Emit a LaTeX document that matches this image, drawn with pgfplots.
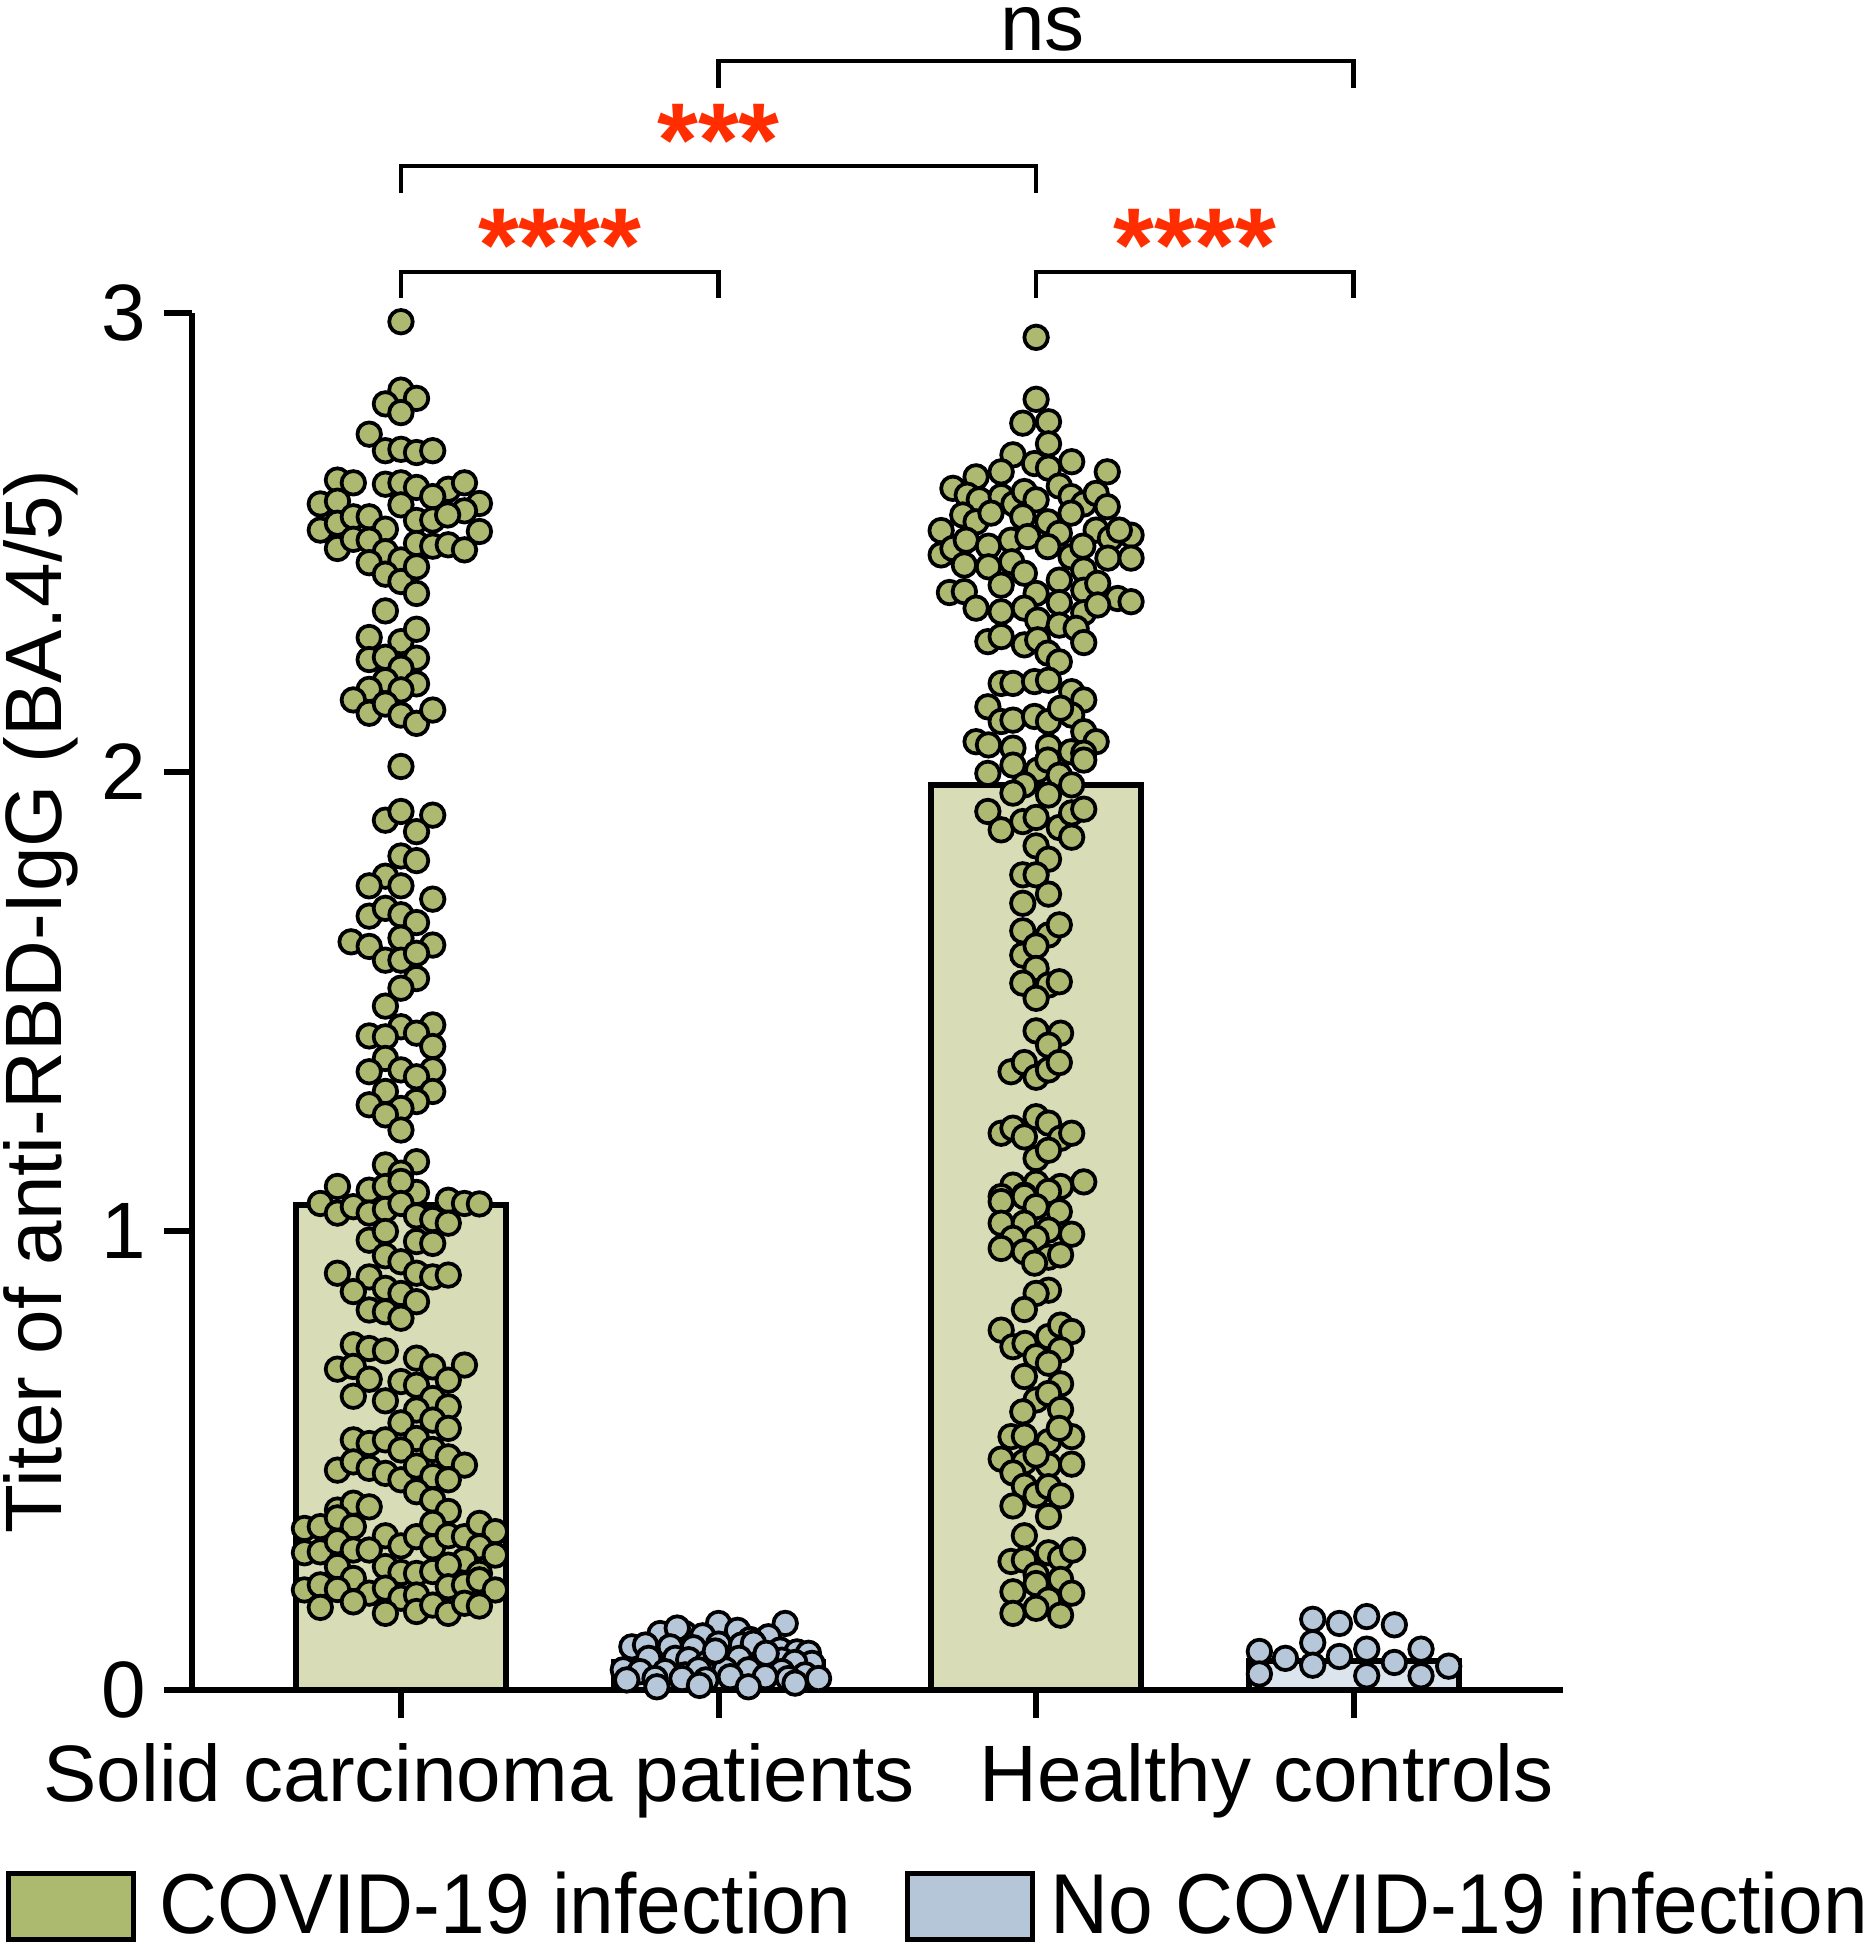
\documentclass[border=0pt]{standalone}
\usepackage{pgfplots}
\pgfplotsset{compat=1.18}
\usepackage{fontspec}
\setmainfont{Liberation Sans}
\newfontfamily\legfont{Liberation Sans}[FakeStretch=0.945]
\definecolor{dotgreen}{RGB}{173,185,112}
\definecolor{bargreen}{RGB}{216,220,183}
\definecolor{leggreen}{RGB}{172,186,112}
\definecolor{dotblue}{RGB}{181,199,216}
\definecolor{barblue}{RGB}{220,229,237}
\definecolor{legblue}{RGB}{181,198,216}
\definecolor{stared}{RGB}{255,45,0}

\pgfplotstableread{
x y
0.000 2.981
0.000 2.832
-0.049 2.802
0.049 2.814
0.000 2.783
-0.100 2.736
-0.049 2.700
0.000 2.703
0.049 2.696
0.100 2.700
-0.200 2.636
-0.150 2.630
-0.049 2.627
0.000 2.630
0.049 2.620
0.149 2.616
0.200 2.630
-0.254 2.584
-0.200 2.590
0.000 2.582
0.100 2.600
0.247 2.585
0.200 2.569
-0.254 2.527
-0.200 2.542
-0.150 2.556
-0.100 2.556
-0.049 2.529
0.049 2.548
0.100 2.549
0.147 2.560
0.247 2.524
-0.200 2.487
-0.150 2.507
-0.100 2.505
-0.049 2.480
0.000 2.462
0.049 2.498
0.100 2.492
0.149 2.495
0.200 2.484
-0.100 2.456
-0.049 2.431
0.000 2.415
0.049 2.447
0.049 2.389
-0.049 2.351
-0.100 2.293
0.000 2.284
0.049 2.311
-0.100 2.245
-0.049 2.250
0.049 2.248
0.000 2.226
-0.049 2.199
0.049 2.192
-0.100 2.180
0.000 2.179
-0.150 2.157
-0.100 2.128
-0.049 2.148
0.000 2.124
0.049 2.106
0.100 2.135
0.000 2.012
-0.049 1.895
0.000 1.914
0.100 1.906
0.049 1.870
0.000 1.817
0.049 1.807
-0.049 1.773
-0.100 1.752
0.000 1.752
0.100 1.723
-0.100 1.686
-0.049 1.703
0.000 1.689
0.049 1.672
-0.157 1.630
-0.100 1.620
0.000 1.638
0.100 1.623
-0.049 1.590
0.000 1.590
0.049 1.605
0.049 1.550
0.000 1.529
-0.049 1.490
0.000 1.445
0.100 1.449
-0.100 1.425
-0.049 1.423
0.049 1.431
0.100 1.402
-0.049 1.376
0.000 1.351
0.100 1.351
-0.100 1.347
0.049 1.336
-0.049 1.304
0.100 1.304
-0.100 1.275
0.049 1.282
0.000 1.267
-0.049 1.253
0.000 1.220
-0.049 1.144
0.049 1.151
0.000 1.126
-0.200 1.097
-0.100 1.089
-0.049 1.097
0.049 1.084
0.000 1.108
-0.254 1.060
-0.200 1.039
-0.150 1.053
-0.100 1.039
-0.049 1.047
0.000 1.060
0.049 1.033
0.100 1.025
0.149 1.067
0.200 1.060
0.247 1.059
0.149 1.017
-0.100 0.980
-0.049 0.999
0.049 0.977
0.100 0.973
-0.049 0.946
0.000 0.933
-0.200 0.908
-0.100 0.900
0.049 0.908
0.100 0.900
0.149 0.904
-0.150 0.868
-0.049 0.875
0.000 0.864
0.049 0.846
-0.100 0.828
-0.049 0.824
0.000 0.810
-0.150 0.752
-0.100 0.744
-0.049 0.739
-0.200 0.699
-0.150 0.705
-0.100 0.677
0.049 0.723
0.100 0.704
0.200 0.708
0.000 0.672
0.049 0.664
0.149 0.675
-0.150 0.640
-0.049 0.630
0.100 0.635
0.149 0.617
0.049 0.610
0.000 0.582
0.100 0.588
0.149 0.570
0.049 0.548
-0.150 0.545
-0.100 0.537
-0.049 0.545
0.000 0.523
0.100 0.524
0.149 0.508
0.200 0.490
-0.200 0.479
-0.150 0.497
-0.100 0.483
-0.049 0.472
0.000 0.458
0.049 0.488
0.100 0.465
0.149 0.458
0.049 0.432
0.100 0.414
0.149 0.389
-0.200 0.392
-0.150 0.407
-0.100 0.399
-0.304 0.352
-0.254 0.356
-0.200 0.375
-0.150 0.356
-0.049 0.336
0.000 0.314
0.049 0.334
0.100 0.363
0.100 0.312
0.149 0.336
0.200 0.334
0.247 0.363
0.297 0.345
0.247 0.312
-0.304 0.299
-0.254 0.301
-0.200 0.323
-0.150 0.305
-0.100 0.305
0.297 0.294
0.200 0.283
-0.200 0.269
-0.150 0.243
-0.049 0.269
0.000 0.256
0.049 0.254
0.100 0.258
0.149 0.272
0.247 0.254
-0.304 0.218
-0.254 0.229
-0.200 0.219
-0.100 0.211
-0.049 0.222
0.000 0.200
0.049 0.207
0.149 0.225
0.200 0.229
0.247 0.240
0.297 0.218
-0.254 0.180
-0.150 0.192
-0.049 0.167
0.049 0.171
0.100 0.185
0.149 0.167
0.200 0.189
0.247 0.183
}\groupA

\pgfplotstableread{
x y
2.000 2.947
2.000 2.812
1.958 2.760
2.039 2.763
2.039 2.715
1.927 2.691
2.112 2.676
1.995 2.672
2.039 2.662
2.224 2.654
1.890 2.654
1.811 2.643
1.738 2.618
1.783 2.603
1.821 2.593
1.890 2.600
1.930 2.584
1.963 2.611
2.000 2.593
2.073 2.623
2.110 2.600
2.150 2.584
2.189 2.607
2.224 2.578
1.701 2.526
1.769 2.560
1.811 2.545
1.858 2.564
1.958 2.556
2.037 2.545
2.073 2.520
2.110 2.564
2.189 2.527
2.234 2.509
2.299 2.516
2.262 2.527
1.701 2.473
1.738 2.487
1.780 2.505
1.850 2.492
1.921 2.505
1.974 2.513
2.037 2.491
2.110 2.469
2.147 2.492
2.226 2.466
2.299 2.466
1.774 2.451
1.850 2.447
1.923 2.458
1.963 2.433
2.073 2.418
2.150 2.440
2.150 2.396
2.194 2.411
1.890 2.407
1.727 2.391
1.774 2.393
2.000 2.389
2.073 2.369
2.257 2.378
2.299 2.371
1.811 2.357
1.890 2.349
1.963 2.357
2.005 2.331
2.073 2.320
2.150 2.347
2.194 2.364
2.126 2.313
1.848 2.284
1.890 2.295
1.963 2.277
2.005 2.288
2.037 2.259
2.073 2.240
2.150 2.282
1.890 2.193
1.927 2.193
1.995 2.197
2.039 2.200
2.112 2.175
2.150 2.157
1.848 2.142
1.890 2.110
1.927 2.113
1.995 2.121
2.039 2.110
2.112 2.124
2.077 2.139
2.150 2.088
2.189 2.066
1.811 2.066
1.850 2.059
1.927 2.052
2.039 2.055
2.110 2.044
2.150 2.041
1.848 1.997
1.927 2.015
2.005 2.004
2.037 2.026
2.073 1.993
1.963 1.972
2.112 1.972
2.150 2.026
1.927 1.954
2.039 1.950
1.848 1.914
1.890 1.874
1.958 1.892
2.000 1.901
2.073 1.879
2.112 1.911
2.150 1.919
2.112 1.858
2.000 1.839
2.039 1.810
1.958 1.776
2.000 1.776
2.039 1.734
1.958 1.714
1.958 1.654
2.039 1.645
2.073 1.667
1.958 1.601
2.000 1.621
2.000 1.572
1.958 1.540
2.039 1.536
2.073 1.543
2.000 1.507
2.000 1.436
2.077 1.431
2.039 1.405
1.921 1.347
1.963 1.367
2.000 1.335
2.039 1.351
2.073 1.367
1.890 1.213
1.927 1.224
1.963 1.205
2.000 1.249
2.039 1.235
2.077 1.202
2.112 1.213
2.000 1.158
2.039 1.176
1.927 1.100
2.000 1.104
2.077 1.097
2.150 1.107
1.890 1.075
1.963 1.078
2.039 1.086
1.890 1.064
1.963 1.075
2.000 1.053
2.073 1.042
1.890 1.017
1.963 1.017
2.039 1.002
2.112 0.993
1.927 0.984
2.000 0.984
1.890 0.962
1.963 0.955
2.039 0.943
2.077 0.948
1.995 0.930
2.039 0.871
2.000 0.864
1.963 0.829
1.890 0.784
1.927 0.748
1.965 0.755
2.039 0.770
2.077 0.795
2.112 0.781
2.077 0.741
2.000 0.726
2.039 0.712
1.963 0.683
2.077 0.667
2.000 0.632
1.958 0.606
2.039 0.646
2.077 0.611
1.921 0.552
1.963 0.553
2.039 0.541
2.112 0.552
2.073 0.570
1.890 0.503
1.963 0.497
2.039 0.490
2.112 0.492
2.000 0.512
1.927 0.473
1.963 0.444
2.000 0.425
2.039 0.443
2.077 0.423
1.927 0.401
2.039 0.378
1.963 0.336
1.921 0.280
1.963 0.283
2.039 0.299
2.077 0.287
2.115 0.305
2.000 0.251
1.927 0.214
2.000 0.232
2.077 0.241
2.112 0.211
2.039 0.196
1.927 0.167
2.000 0.178
2.077 0.163
}\groupC

\pgfplotstableread{
x y
1.000 0.145
1.210 0.145
0.816 0.123
0.893 0.123
0.950 0.118
1.157 0.116
1.060 0.130
0.870 0.135
1.100 0.110
0.727 0.094
0.770 0.098
0.848 0.094
0.921 0.092
1.000 0.100
1.073 0.098
1.110 0.102
1.194 0.087
1.247 0.083
1.283 0.080
0.780 0.069
0.864 0.069
0.906 0.066
0.963 0.058
1.016 0.066
1.065 0.069
1.136 0.062
1.199 0.065
1.294 0.058
1.240 0.060
0.700 0.044
0.753 0.040
0.832 0.040
0.895 0.033
0.937 0.044
1.021 0.044
1.094 0.044
1.160 0.040
1.199 0.040
1.273 0.033
0.711 0.022
0.800 0.025
0.885 0.025
0.960 0.022
1.037 0.029
1.147 0.029
1.220 0.025
1.315 0.025
0.806 0.007
0.940 0.010
1.094 0.007
1.241 0.015
0.990 0.085
1.150 0.080
}\groupB

\pgfplotstableread{
x y
2.871 0.154
2.955 0.145
3.041 0.160
3.128 0.142
2.871 0.103
2.703 0.084
2.785 0.069
2.955 0.073
3.041 0.089
3.128 0.060
3.212 0.089
2.871 0.054
3.299 0.052
2.703 0.035
3.041 0.031
3.212 0.031
}\groupD

\begin{document}
\begin{tikzpicture}
\begin{axis}[
  scale only axis, width=274.2pt, height=275.4pt,
  xmin=-0.658, xmax=3.659, ymin=0, ymax=3,
  axis x line*=bottom, axis y line*=left,
  axis line style={-, line width=1.3pt, black},
  xtick={0,1,2,3}, xticklabels={{},{},{},{}},
  ytick={0,1,2,3},
  tick align=outside, major tick length=5.5pt,
  tick style={line width=1.2pt, black},
  /pgf/number format/assume math mode=true,
  ticklabel style={font=\fontsize{16}{19}\selectfont},
  yticklabel style={inner sep=0pt, anchor=east, xshift=-3.6pt},
  ylabel={Titer of anti-RBD-IgG (BA.4/5)},
  ylabel style={at={(axis description cs:-0.0955,0.5)}, anchor=base, font=\fontsize{16}{19}\selectfont},
  clip=false,
  legend columns=2,
  legend style={draw=none, fill=none, inner sep=0pt, outer sep=0pt,
    at={(axis description cs:-0.1357,-0.157)}, anchor=west,
    font=\legfont\fontsize{17}{20}\selectfont,
    nodes={inner sep=0pt}, column sep=0pt},
]
\addlegendimage{legend image code/.code={\draw[fill=leggreen, draw=black, line width=1pt] (0pt,-6.6pt) rectangle (25pt,6.6pt); \path (30pt,0pt);}}
\addlegendentry{COVID-19 infection}
\addlegendimage{legend image code/.code={\path (0pt,0pt); \draw[fill=legblue, draw=black, line width=1pt] (11pt,-6.6pt) rectangle (36pt,6.6pt); \path (39.5pt,0pt);}}
\addlegendentry{No COVID-19 infection}

\addplot[ybar, bar width=0.66, bar shift=0pt, fill=bargreen, draw=black, line width=1.2pt, forget plot] coordinates {(0,1.057) (2,1.972)};
\addplot[ybar, bar width=0.66, bar shift=0pt, fill=barblue, draw=black, line width=1.2pt, forget plot] coordinates {(1,0.060) (3,0.064)};

\addplot[only marks, mark=*, mark size=2.35pt, mark options={fill=dotgreen, draw=black, line width=0.75pt}, forget plot] table[x=x, y=y] {\groupA};
\addplot[only marks, mark=*, mark size=2.35pt, mark options={fill=dotblue, draw=black, line width=0.75pt}, forget plot] table[x=x, y=y] {\groupB};
\addplot[only marks, mark=*, mark size=2.35pt, mark options={fill=dotgreen, draw=black, line width=0.75pt}, forget plot] table[x=x, y=y] {\groupC};
\addplot[only marks, mark=*, mark size=2.35pt, mark options={fill=dotblue, draw=black, line width=0.75pt}, forget plot] table[x=x, y=y] {\groupD};

\draw[line width=0.9pt] (axis cs:0,3.033) -- (axis cs:0,3.089) -- (axis cs:1,3.089) -- (axis cs:1,3.033);
\draw[line width=0.9pt] (axis cs:2,3.033) -- (axis cs:2,3.089) -- (axis cs:3,3.089) -- (axis cs:3,3.033);
\draw[line width=0.9pt] (axis cs:0,3.261) -- (axis cs:0,3.320) -- (axis cs:2,3.320) -- (axis cs:2,3.261);
\draw[line width=0.9pt] (axis cs:1,3.490) -- (axis cs:1,3.549) -- (axis cs:3,3.549) -- (axis cs:3,3.490);

\node[anchor=base, text=stared, font=\bfseries\fontsize{21}{24}\selectfont] at (axis cs:0.5,3.068) {****};
\node[anchor=base, text=stared, font=\bfseries\fontsize{21}{24}\selectfont] at (axis cs:2.5,3.068) {****};
\node[anchor=base, text=stared, font=\bfseries\fontsize{21}{24}\selectfont] at (axis cs:1.0,3.298) {***};
\node[anchor=base, inner sep=0pt, font=\fontsize{16}{19}\selectfont] at (axis cs:2.02,3.572) {ns};

\node[anchor=base, font=\fontsize{16}{19}\selectfont] at (axis cs:0.247,-0.243) {Solid carcinoma patients};
\node[anchor=base, font=\fontsize{16}{19}\selectfont] at (axis cs:2.726,-0.243) {Healthy controls};
\end{axis}
\pgfresetboundingbox
\useasboundingbox (-38.4pt,-51.2pt) rectangle (335.8pt,338pt);
\end{tikzpicture}
\end{document}
